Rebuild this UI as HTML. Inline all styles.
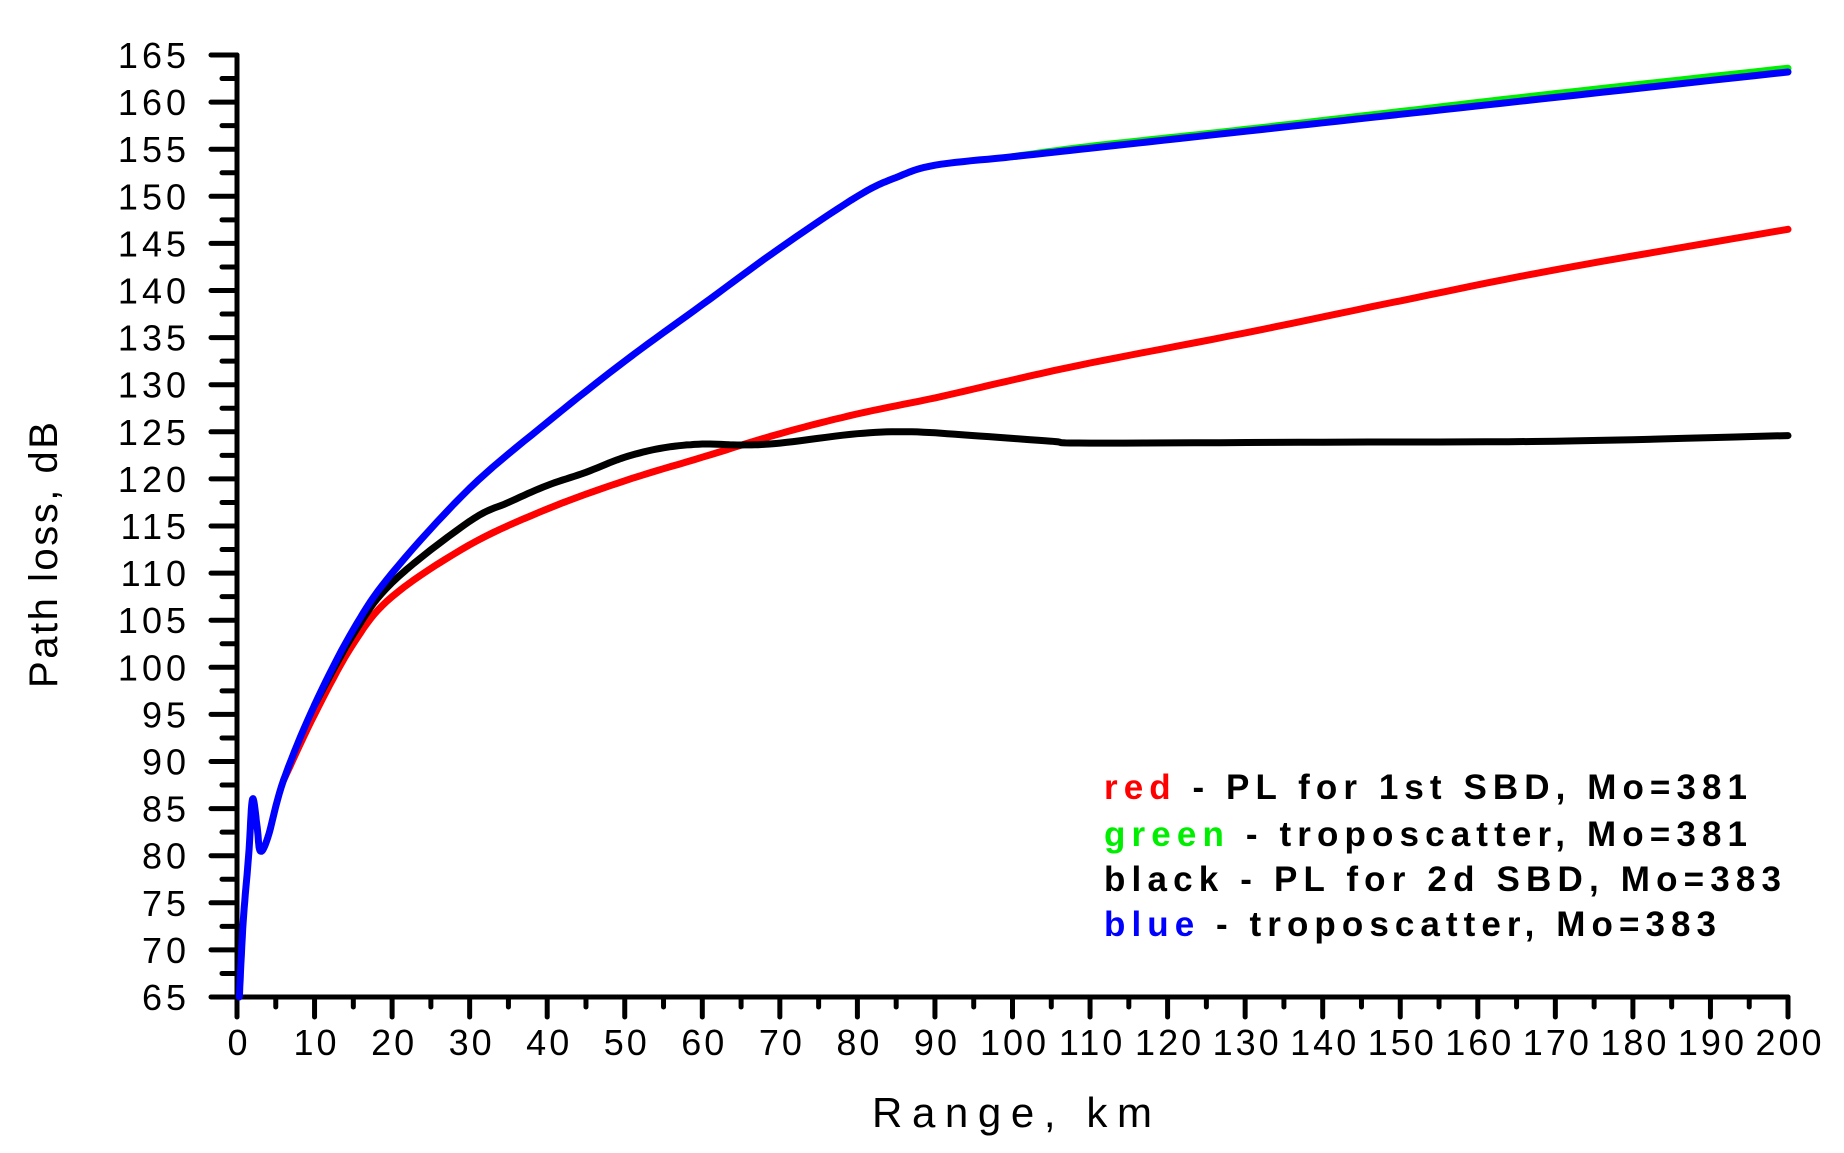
<!DOCTYPE html>
<html><head><meta charset="utf-8"><style>
html,body{margin:0;padding:0;background:#fff;}
svg{display:block;}
text{font-family:"Liberation Sans",Arial,sans-serif;}
</style></head><body>
<svg id="s" width="1844" height="1153" viewBox="0 0 1844 1153" xmlns="http://www.w3.org/2000/svg">
<g id="ax" stroke="#000" stroke-width="5" fill="none" stroke-linecap="round"></g>
<g id="lab" font-size="36" fill="#000"></g>
<g id="cur" fill="none" stroke-width="7" stroke-linejoin="round" stroke-linecap="round"></g>
<text x="57" y="555" font-size="40" text-anchor="middle" transform="rotate(-90 57 555)" textLength="266" lengthAdjust="spacing">Path loss, dB</text>
<text x="1012" y="1127" font-size="42" text-anchor="middle" textLength="280" lengthAdjust="spacing">Range, km</text>
<g font-size="35" font-weight="bold">
<text x="1104" y="799" textLength="643" lengthAdjust="spacing"><tspan fill="#ff0000">red</tspan> - PL for 1st SBD, Mo=381</text>
<text x="1104" y="846" textLength="643" lengthAdjust="spacing"><tspan fill="#00ee00">green</tspan> - troposcatter, Mo=381</text>
<text x="1104" y="891" textLength="677" lengthAdjust="spacing">black - PL for 2d SBD, Mo=383</text>
<text x="1104" y="936" textLength="612" lengthAdjust="spacing"><tspan fill="#0000ff">blue</tspan> - troposcatter, Mo=383</text>
</g>
</svg>
<script>
var X0=237,X1=1788,Y0=997,Y1=55;
function px(k){return X0+(X1-X0)*k/200;}
function py(d){return Y0-(Y0-Y1)*(d-65)/100;}
var NS="http://www.w3.org/2000/svg";
function el(p,t,a,txt){var e=document.createElementNS(NS,t);for(var k in a)e.setAttribute(k,a[k]);if(txt!=null)e.textContent=txt;document.getElementById(p).appendChild(e);}
el("ax","path",{d:"M"+X0+" "+Y1+" L"+X0+" "+Y0+" L"+X1+" "+Y0});
for(var v=65;v<=165;v+=2.5){var y=py(v),maj=(v%5==0);el("ax","path",{d:"M"+(maj?211:222)+" "+y+" L"+X0+" "+y});
 if(maj)el("lab","text",{x:190,y:y+13,"text-anchor":"end","letter-spacing":"4"},String(v));}
for(var k=0;k<=200;k+=5){var x=px(k),maj=(k%10==0);el("ax","path",{d:"M"+x+" "+Y0+" L"+x+" "+(maj?1017:1007)});
 if(maj)el("lab","text",{x:x+2,y:1055,"text-anchor":"middle","letter-spacing":"3"},String(k));}
function curve(pts,col){var d="";var fine=[];
 for(var i=0;i<pts.length-1;i++){var p0=pts[Math.max(0,i-1)],p1=pts[i],p2=pts[i+1],p3=pts[Math.min(pts.length-1,i+2)];
  for(var t=0;t<1;t+=0.1){var t2=t*t,t3=t2*t;
   var f=function(a,b,c,e){return 0.5*((2*b)+(-a+c)*t+(2*a-5*b+4*c-e)*t2+(-a+3*b-3*c+e)*t3);};
   fine.push([f(p0[0],p1[0],p2[0],p3[0]),f(p0[1],p1[1],p2[1],p3[1])]);}}
 fine.push(pts[pts.length-1]);
 fine.forEach(function(p,i){d+=(i?"L":"M")+px(p[0]).toFixed(1)+" "+py(p[1]).toFixed(1);});
 el("cur","path",{d:d,stroke:col});}
var red=[[6,88],[10,95],[15,102.5],[20,107.5],[30,113],[40,116.8],[50,119.8],[60,122.3],[70,124.8],[80,126.9],[90,128.6],[100,130.5],[110,132.3],[130,135.5],[150,138.9],[170,142.2],[200,146.5]];
var black=[[10,96],[15,103.5],[20,109],[30,115.5],[35,117.5],[40,119.3],[45,120.7],[50,122.3],[55,123.3],[60,123.7],[65,123.6],[70,123.8],[80,124.8],[87,125],[95,124.6],[105,124],[110,123.8],[140,123.9],[170,124],[200,124.6]];
var green=[[100,154.2],[110,155.3],[130,157.1],[150,159],[170,160.9],[200,163.6]];
var blue=[[0.3,65],[0.8,73],[1.5,80],[2,86],[2.6,83],[3,80.5],[4,82],[6,88],[10,96],[15,104],[20,110],[30,119],[40,126],[50,132.5],[60,138.5],[70,144.5],[80,150],[85,152],[90,153.3],[100,154.2],[110,155.1],[130,156.9],[150,158.7],[170,160.5],[200,163.2]];
curve(red,"#ff0000");curve(black,"#000000");curve(green,"#00ee00");curve(blue,"#0000ff");
</script>
</body></html>
